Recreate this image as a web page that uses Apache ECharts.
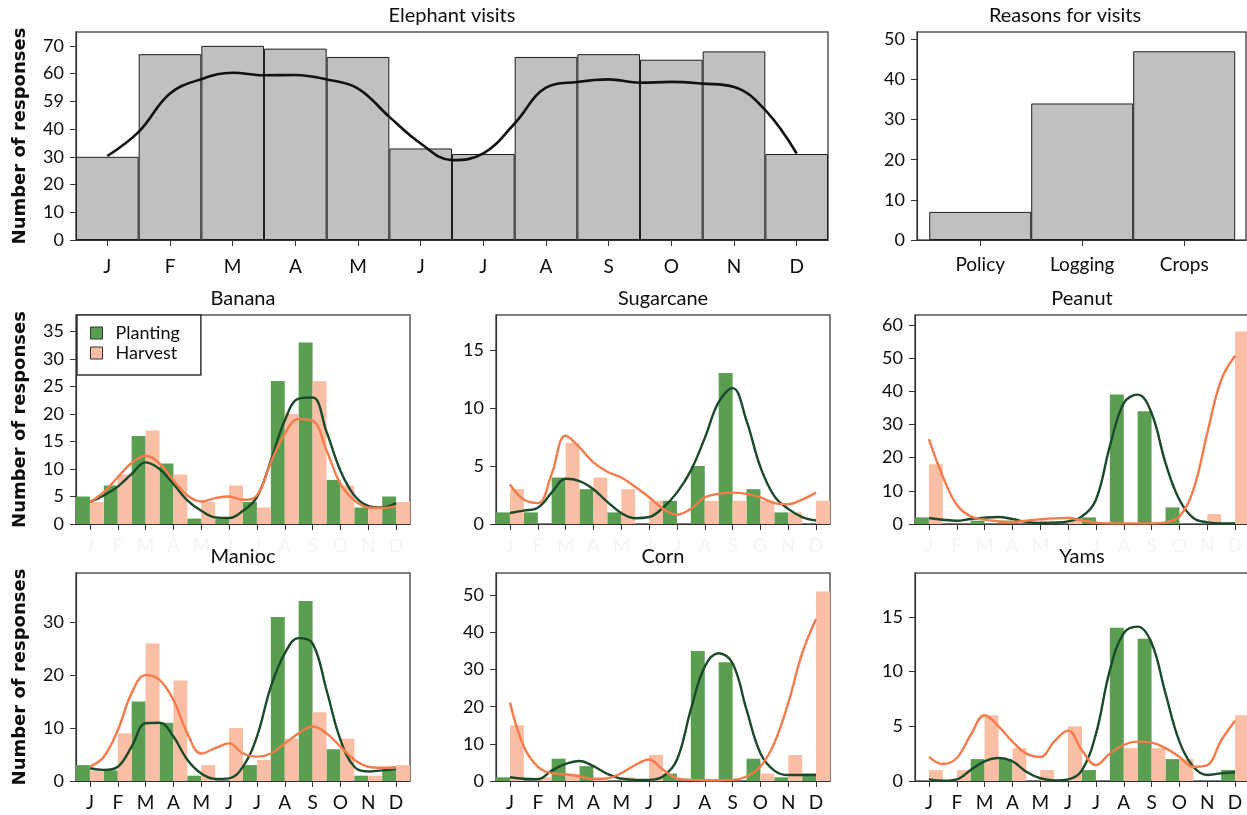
<!DOCTYPE html>
<html>
<head>
<meta charset="utf-8">
<script src="https://cdn.jsdelivr.net/npm/echarts@6/dist/echarts.min.js"></script>
<style>
html,body{margin:0;padding:0;background:#fff;}
#chart{width:1247px;height:815px;}
</style>
</head>
<body>
<div id="chart"></div>
<script>
// ---------- DATA ----------
const months = ['J','F','M','A','M','J','J','A','S','O','N','D'];
// curve sample positions (month index, at each month and half-month)
const curveX = [0,0.5,1,1.5,2,2.5,3,3.5,4,4.5,5,5.5,6,6.5,7,7.5,8,8.5,9,9.5,10,10.5,11];

const visits = [30,67,70,69,66,33,31,66,67,65,68,31];
const visitsCurve = [30.3,39,52.8,58,60.3,59.4,59.5,57.9,54.6,44.4,34.8,28.8,31.2,42,54.9,57,57.9,56.7,57,56.4,55.2,46.8,31.2];
const visitsTickValues = [0,10,20,30,40,50,60,70];
const visitsTickLabels = ['0','10','20','30','40','59','60','70'];

const reasons = ['Policy','Logging','Crops'];
const reasonCounts = [7,34,47];
const reasonTickValues = [0,10,20,30,40,50];

const bananaPlant = [5,7,16,11,1,1,4,26,33,8,3,5];
const bananaHarv  = [4,9,17,9,4,7,3,20,26,7,3,4];
const bananaPlantCurve = [4.0,5.2,6.8,9.1,11.2,10.0,7.3,4.3,2.4,1.2,1.1,2.4,4.9,11.5,18.8,22.8,23.0,16.8,9.7,5.2,3.3,3.0,3.8];
const bananaHarvCurve  = [4.0,5.8,8.5,11.1,12.4,11.0,7.9,5.2,4.1,4.7,5.0,4.4,5.2,11.2,16.4,19.1,18.8,13.4,7.3,4.3,3.0,2.9,3.2];
const bananaTicks = [0,5,10,15,20,25,30,35];

const sugarPlant = [1,1,4,3,1,0,2,5,13,3,1,0];
const sugarHarv  = [3,0,7,4,3,2,0,2,2,2,1,2];
const sugarPlantCurve = [0.95,1.15,1.4,2.7,3.9,3.7,3.0,1.9,0.95,0.5,0.6,1.4,2.7,4.6,7.4,10.5,11.7,8.9,4.9,2.4,1.3,0.6,0.3];
const sugarHarvCurve  = [3.4,2.1,1.8,4.3,7.6,6.6,5.3,4.5,4.0,3.2,2.3,1.3,0.8,1.3,2.3,2.6,2.7,2.6,2.3,1.8,1.7,2.1,2.7];
const sugarTicks = [0,5,10,15];

const peanutPlant = [2,0,1,1,0,0,2,39,34,5,0,0];
const peanutHarv  = [18,0,0,0,1,1,0,0,0,0,3,58];
const peanutPlantCurve = [1.8,1.3,1.0,1.5,1.9,2.1,1.5,0.6,0.3,0.4,0.8,2.3,7.3,23.4,36.4,39.0,33.4,18.4,7.3,1.8,0.5,0.2,0.2];
const peanutHarvCurve  = [25.6,14.3,5.8,2.3,1.3,0.8,0.6,1.0,1.4,1.7,1.8,1.1,0.4,0.2,0.2,0.2,0.2,0.5,2.3,10.3,27.4,43.4,50.7];
const peanutTicks = [0,10,20,30,40,50,60];

const maniocPlant = [3,2,15,11,1,0,3,31,34,6,1,2];
const maniocHarv  = [2,9,26,19,3,10,4,8,13,8,1,3];
const maniocPlantCurve = [2.4,2.1,2.7,6.5,10.9,11.0,8.4,4.0,1.4,0.4,0.5,2.7,8.4,17.8,24.1,27.0,26.0,17.2,7.8,2.7,1.8,2.0,2.2];
const maniocHarvCurve  = [2.7,4.6,9.6,16.6,20.0,19.1,15.3,9.0,5.2,6.2,7.1,5.2,4.6,5.2,7.1,9.0,10.3,9.0,6.5,4.0,2.7,2.5,2.6];
const maniocTicks = [0,10,20,30];

const cornPlant = [1,0,6,4,0,0,2,35,32,6,1,2];
const cornHarv  = [15,1,2,1,1,7,0,0,0,2,7,51];
const cornPlantCurve = [1.0,0.6,0.5,2.8,4.6,5.4,4.0,1.9,0.6,0.3,0.3,1.2,5.7,19.2,30.8,34.4,31.7,19.2,7.5,2.8,1.6,1.6,1.6];
const cornHarvCurve  = [21.1,9.3,3.9,2.1,1.8,1.2,0.5,0.7,2.1,4.3,5.8,3.0,0.7,0.3,0.2,0.2,0.3,1.2,3.9,10.2,21.0,34.4,43.6];
const cornTicks = [0,10,20,30,40,50];

const yamsPlant = [0,0,2,2,0,0,1,14,13,2,0,1];
const yamsHarv  = [1,1,6,3,1,5,0,3,3,2,0,6];
const yamsPlantCurve = [0.15,0.03,0.15,1.0,1.8,2.1,1.8,0.85,0.25,0.06,0.15,1.0,4.3,10.1,13.5,14.1,12.6,8.0,3.6,1.3,0.55,0.7,0.8];
const yamsHarvCurve  = [2.2,1.55,2.1,4.2,6.0,5.0,3.6,2.5,2.2,3.6,4.6,2.8,1.45,2.5,3.3,3.6,3.5,3.0,2.2,1.3,1.45,3.7,5.5];
const yamsTicks = [0,5,10,15];

// ---------- STYLE / LAYOUT ----------
const FONT = 'Lato';
const GREEN = '#5a9e52';
const PINK = '#f9bea3';
const DGREEN = '#1b4a2b';
const ORANGE = '#f47c4c';
const AX = '#333';
const TXT = '#0d0d0d';

const pair = (xs, ys) => xs.map((x, i) => [x, ys[i]]);

const grids = [];
const xAxes = [];
const yAxes = [];
const series = [];
const titles = [];

function yAxisFor(gridIndex, max, ticks, labels, withName) {
  return {
    type: 'value', gridIndex, min: 0, max,
    splitLine: {show: false},
    axisLine: {show: true, onZero: false, lineStyle: {color: AX, width: 1.2}},
    axisTick: {show: true, length: 6, lineStyle: {color: AX}, customValues: ticks},
    axisLabel: {
      color: TXT, fontFamily: FONT, fontSize: 18, margin: 12,
      customValues: ticks,
      formatter: v => labels ? labels[ticks.indexOf(v)] : String(v)
    },
    name: withName ? 'Number of responses' : '',
    nameLocation: 'middle', nameGap: 47, nameRotate: 90,
    nameTextStyle: {fontFamily: 'DejaVu Sans', fontWeight: 'bold', fontSize: 18, color: TXT}
  };
}

function gridBox(left, top, width, height) {
  return {left, top, width, height, show: true, borderColor: '#555', borderWidth: 1.5,
          backgroundColor: 'transparent', containLabel: false, outerBoundsMode: 'none'};
}

function addTitle(text, cx, top) {
  titles.push({text, left: cx, top, textAlign: 'center', padding: 0,
    textStyle: {fontFamily: FONT, fontSize: 20, fontWeight: 'normal', color: TXT}});
}

// Panel 0: Elephant visits
grids.push(gridBox(76, 32, 752, 208));
xAxes.push({type: 'category', gridIndex: 0, data: months,
  axisLine: {show: true, onZero: false, lineStyle: {color: AX, width: 1.2}},
  axisTick: {show: true, alignWithLabel: true, length: 6, lineStyle: {color: AX}},
  axisLabel: {color: TXT, fontFamily: FONT, fontSize: 19, margin: 17}});
xAxes.push({type: 'value', gridIndex: 0, min: -0.5, max: 11.5, show: false});
yAxes.push(yAxisFor(0, 75, visitsTickValues, visitsTickLabels, true));
series.push({type: 'bar', xAxisIndex: 0, yAxisIndex: 0, data: visits, barCategoryGap: '0%',
  itemStyle: {color: '#c0c0c0', borderColor: '#1e1e1e', borderWidth: 1}, silent: true});
series.push({type: 'line', xAxisIndex: 1, yAxisIndex: 0, data: pair(curveX, visitsCurve),
  smooth: 0.4, showSymbol: false, lineStyle: {color: '#111', width: 2.6}, silent: true, z: 5});
addTitle('Elephant visits', 452, 6);

// Panel 1: Reasons for visits
grids.push(gridBox(917, 32, 329, 208));
xAxes.push({type: 'value', gridIndex: 1, min: -0.62, max: 2.606,
  splitLine: {show: false},
  axisLine: {show: true, onZero: false, lineStyle: {color: AX, width: 1.2}},
  axisTick: {show: true, length: 6, lineStyle: {color: AX}, customValues: [0,1,2]},
  axisLabel: {color: TXT, fontFamily: FONT, fontSize: 19, margin: 15,
    customValues: [0,1,2], formatter: v => reasons[v]}});
yAxes.push(yAxisFor(1, 51.8, reasonTickValues, null, false));
series.push({type: 'bar', xAxisIndex: 2, yAxisIndex: 1, data: pair([0,1,2], reasonCounts), barWidth: 102,
  itemStyle: {color: '#c0c0c0', borderColor: '#1e1e1e', borderWidth: 1}, silent: true});
addTitle('Reasons for visits', 1065, 6);

// Crop panels
const crops = [
  {name: 'Banana', left: 76, top: 315, max: 38, ticks: bananaTicks, p: bananaPlant, h: bananaHarv, pc: bananaPlantCurve, hc: bananaHarvCurve, yname: true, row: 2},
  {name: 'Sugarcane', left: 496, top: 315, max: 18, ticks: sugarTicks, p: sugarPlant, h: sugarHarv, pc: sugarPlantCurve, hc: sugarHarvCurve, yname: false, row: 2},
  {name: 'Peanut', left: 915, top: 315, max: 63, ticks: peanutTicks, p: peanutPlant, h: peanutHarv, pc: peanutPlantCurve, hc: peanutHarvCurve, yname: false, row: 2},
  {name: 'Manioc', left: 76, top: 573, max: 39.3, ticks: maniocTicks, p: maniocPlant, h: maniocHarv, pc: maniocPlantCurve, hc: maniocHarvCurve, yname: true, row: 3},
  {name: 'Corn', left: 496, top: 573, max: 56, ticks: cornTicks, p: cornPlant, h: cornHarv, pc: cornPlantCurve, hc: cornHarvCurve, yname: false, row: 3},
  {name: 'Yams', left: 915, top: 573, max: 19, ticks: yamsTicks, p: yamsPlant, h: yamsHarv, pc: yamsPlantCurve, hc: yamsHarvCurve, yname: false, row: 3}
];

crops.forEach((c, k) => {
  const gi = 2 + k;
  const h = c.row === 2 ? 209 : 208;
  grids.push(gridBox(c.left, c.top, 334, h));
  const catIdx = xAxes.length;
  xAxes.push({type: 'category', gridIndex: gi, data: months,
    axisLine: {show: true, onZero: false, lineStyle: {color: AX, width: 1.2}},
    axisTick: {show: true, alignWithLabel: true, length: 6, lineStyle: {color: AX}},
    axisLabel: {color: c.row === 2 ? '#f5f5f5' : TXT, fontFamily: FONT, fontSize: 19, margin: 12, interval: 0}});
  const valIdx = xAxes.length;
  xAxes.push({type: 'value', gridIndex: gi, min: -0.5, max: 11.5, show: false});
  yAxes.push(yAxisFor(gi, c.max, c.ticks, null, c.yname));
  series.push({name: 'Planting', type: 'bar', xAxisIndex: catIdx, yAxisIndex: gi, data: c.p,
    color: GREEN, itemStyle: {color: GREEN}, barGap: '0%', barCategoryGap: '0%', silent: true});
  series.push({name: 'Harvest', type: 'bar', xAxisIndex: catIdx, yAxisIndex: gi, data: c.h,
    color: PINK, itemStyle: {color: PINK}, barGap: '0%', barCategoryGap: '0%', silent: true});
  series.push({name: 'PlantingCurve', type: 'line', xAxisIndex: valIdx, yAxisIndex: gi, data: pair(curveX, c.pc),
    smooth: 0.4, showSymbol: false, lineStyle: {color: DGREEN, width: 2.4}, silent: true, z: 5});
  series.push({name: 'HarvestCurve', type: 'line', xAxisIndex: valIdx, yAxisIndex: gi, data: pair(curveX, c.hc),
    smooth: 0.4, showSymbol: false, lineStyle: {color: ORANGE, width: 2.4}, silent: true, z: 5});
  const cx = c.left + 167;
  addTitle(c.name, c.name === 'Peanut' || c.name === 'Yams' ? 1082 : cx, c.top - 26);
});

const option = {
  animation: false,
  backgroundColor: '#fff',
  title: titles,
  grid: grids,
  xAxis: xAxes,
  yAxis: yAxes,
  legend: {
    data: ['Planting', 'Harvest'],
    orient: 'vertical', left: 77, top: 315,
    backgroundColor: '#fff', borderColor: '#333', borderWidth: 1.5, borderRadius: 0,
    padding: [9, 21, 13, 13],
    itemWidth: 12, itemHeight: 12, itemGap: 2,
    icon: 'rect',
    itemStyle: {borderColor: '#333', borderWidth: 1},
    selectedMode: false,
    textStyle: {fontFamily: FONT, fontSize: 18, color: TXT,
      rich: {p: {padding: [0, 0, 0, 8], fontFamily: FONT, fontSize: 18, lineHeight: 17, color: TXT}}},
    formatter: n => '{p|' + n + '}'
  },
  series
};

const chart = echarts.init(document.getElementById('chart'), null, {renderer: 'canvas'});
chart.setOption(option);
</script>
</body>
</html>
